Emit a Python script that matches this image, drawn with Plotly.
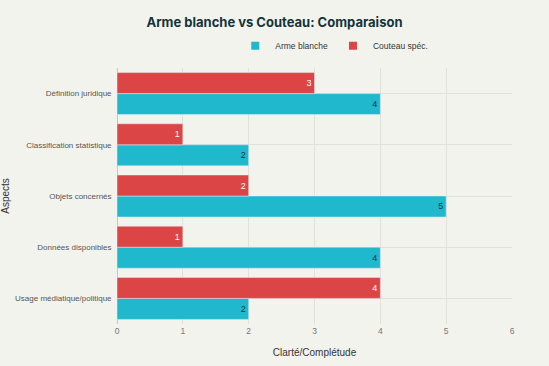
import plotly.graph_objects as go

categories = ["Définition juridique", "Classification statistique", "Objets concernés",
              "Données disponibles", "Usage médiatique/politique"]
arme_blanche = [4, 2, 5, 4, 2]
couteau_spec = [3, 1, 2, 1, 4]
series_names = ["Arme blanche", "Couteau spéc."]
colors = ["#1FB8CD", "#DB4545"]

fig = go.Figure()
fig.add_trace(go.Bar(
    y=categories, x=arme_blanche, name=series_names[0], orientation="h",
    marker=dict(color=colors[0]), text=arme_blanche, textposition="inside",
    insidetextanchor="end", textfont=dict(color="#13343B", size=9),
    cliponaxis=False, showlegend=False,
))
fig.add_trace(go.Bar(
    y=categories, x=couteau_spec, name=series_names[1], orientation="h",
    marker=dict(color=colors[1]), text=couteau_spec, textposition="inside",
    insidetextanchor="end", textfont=dict(color="#FFFFFF", size=9),
    cliponaxis=False, showlegend=False,
))
# legend entries with small square markers
for name, col in zip(series_names, colors):
    fig.add_trace(go.Scatter(x=[None], y=[None], mode="markers", name=name,
                             marker=dict(symbol="square", size=8, color=col)))

fig.update_layout(
    width=549, height=366,
    barmode="group", bargap=0.18, bargroupgap=0,
    paper_bgcolor="#F3F3EE", plot_bgcolor="#F3F3EE",
    font=dict(family="Liberation Sans, Arial, sans-serif", color="#13343B", size=9),
    title=dict(text="<b>Arme blanche vs Couteau: Comparaison</b>", x=0.5, xanchor="center",
               y=0.94, yanchor="middle", font=dict(family="Inter, sans-serif", size=13, color="#13343B")),
    legend=dict(orientation="h", x=0.55, xanchor="center", y=1.03, yanchor="bottom",
                font=dict(size=8.5, color="#333"), bgcolor="rgba(0,0,0,0)", traceorder="normal",
                itemwidth=30, tracegroupgap=0),
    margin=dict(l=117, r=37, t=68, b=42, autoexpand=False),
    xaxis=dict(range=[0, 6], dtick=1, showgrid=True, gridcolor="#E2E0DA",
               zeroline=True, zerolinecolor="#C8C6C0", zerolinewidth=1,
               tickfont=dict(size=8.5, color="#777"), ticks="", automargin=False,
               title=dict(text="Clarté/Complétude", font=dict(size=10, color="#333"), standoff=14)),
    yaxis=dict(categoryorder="array", categoryarray=categories[::-1],
               showgrid=True, gridcolor="#E2E0DA", tickfont=dict(size=8, color="#555"),
               ticks="", ticksuffix="  ", automargin=False,
               title=dict(text="Aspects", font=dict(size=10, color="#333"), standoff=8)),
)

fig.write_html("out.html", config={"displayModeBar": False},
               post_script="document.body.style.margin='0';document.body.style.padding='0';document.body.style.overflow='hidden';")
